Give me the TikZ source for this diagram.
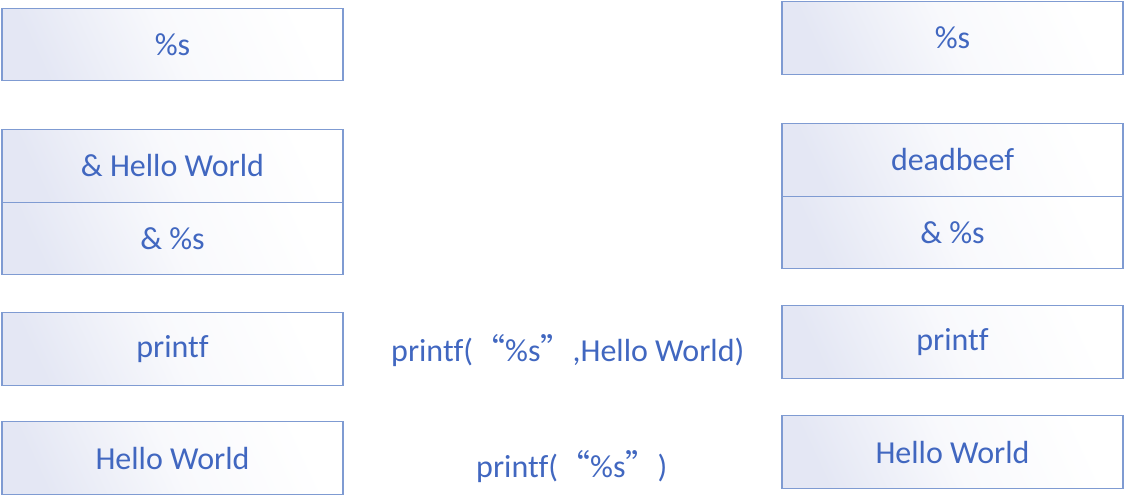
\documentclass[tikz,border=0pt]{standalone}
\usepackage{fontspec}
\setmainfont{Carlito}[Ligatures=CommonOff]
\newfontfamily\cjkquote{Noto Sans CJK SC}
\definecolor{txtblue}{HTML}{4167C0}
\definecolor{lineblue}{HTML}{7F9BD2}
\definecolor{lavender}{HTML}{E4E7F4}

\begin{document}
\begin{tikzpicture}[x=1pt,y=-1pt,
		cell/.style = {draw = lineblue, line width = 1.2pt, left color = lavender, right color = white, middle color = lavender!25!white, shading angle = 115,
			minimum width = 341pt, minimum height = 72.5pt, inner sep = 0pt, text = txtblue, font = \fontsize{32}{34}\selectfont},
		call/.style = {text = txtblue, font = \fontsize{32}{34}\selectfont, inner sep = 0pt}]
		\def\lx{172.5}
		\def\rx{952.5}
		
		\useasboundingbox (0,0) rectangle (1125,503);
		
		% stack before the call
		\node[cell] (lfmt) at (\lx,44.5) {\%s};
		\node[cell] (lhello) at (\lx,166) {\& Hello World};
		\node[cell] (lsfmt) at (\lx,238.5) {\& \%s};
		\node[cell] (lprintf) at (\lx,349) {printf};
		\node[cell] (lstr) at (\lx,458) {Hello World};
		
		% stack after the call
		\node[cell] (rfmt) at (\rx,38) {\%s};
		\node[cell] (rdead) at (\rx,160) {deadbeef};
		\node[cell] (rsfmt) at (\rx,232.5) {\& \%s};
		\node[cell] (rprintf) at (\rx,342) {printf};
		\node[cell] (rstr) at (\rx,452) {Hello World};
		
		\node[call, anchor = west] (twoarg) at (391,351) {printf({\cjkquote “}\%s{\cjkquote ”},Hello World)};
		\node[call, anchor = west] (onearg) at (476,467) {printf({\cjkquote “}\%s{\cjkquote ”})};
	\end{tikzpicture}
\end{document}
